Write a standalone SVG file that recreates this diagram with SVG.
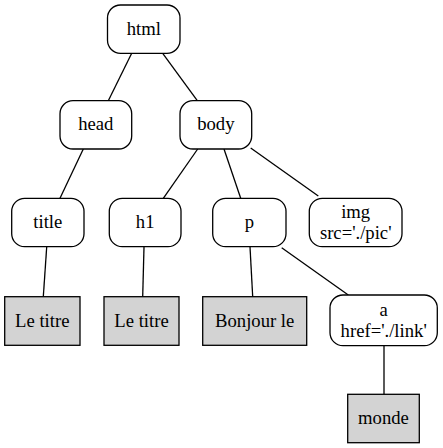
<svg xmlns="http://www.w3.org/2000/svg" width="443" height="448" viewBox="0 0 443 448">
<style>
.n{fill:#fff;stroke:#000;stroke-width:1.3}
.t{fill:#d3d3d3;stroke:#000;stroke-width:1.3}
text{font-family:'Liberation Serif',Tinos,'Times New Roman',Times,'DejaVu Serif','Noto Serif',serif;font-size:18.67px;text-anchor:middle;fill:#000}
.e{stroke:#000;stroke-width:1.3;fill:none}
</style>
<rect width="443" height="448" fill="#fff"/>
<g id="edges">
<line class="e" x1="131.7" y1="53.3" x2="108.3" y2="100.7"/>
<line class="e" x1="162.7" y1="53.3" x2="197.3" y2="100.7"/>
<line class="e" x1="83.3" y1="149" x2="60" y2="198.3"/>
<line class="e" x1="197.7" y1="149" x2="163.3" y2="198.3"/>
<line class="e" x1="224" y1="149" x2="240.7" y2="198.3"/>
<line class="e" x1="250.7" y1="148" x2="318.3" y2="196"/>
<line class="e" x1="46.7" y1="247" x2="43.3" y2="296.7"/>
<line class="e" x1="144" y1="247" x2="142.7" y2="296.7"/>
<line class="e" x1="250" y1="246.7" x2="252.7" y2="296.7"/>
<line class="e" x1="281.7" y1="247.7" x2="348.3" y2="295"/>
<line class="e" x1="384" y1="345.7" x2="384" y2="394.3"/>
</g>
<g id="html"><rect class="n" x="107.5" y="5" width="72.5" height="48.3" rx="13"/><text x="143.75" y="34.6">html</text></g>
<g id="head"><rect class="n" x="60" y="100.7" width="71.7" height="48.3" rx="13"/><text x="95.8" y="130.4">head</text></g>
<g id="body"><rect class="n" x="180" y="100.7" width="71.7" height="48.3" rx="13"/><text x="215.8" y="130.4">body</text></g>
<g id="title"><rect class="n" x="11.7" y="198.3" width="72.3" height="48.4" rx="13"/><text x="47.8" y="228.1">title</text></g>
<g id="h1"><rect class="n" x="109.3" y="198.3" width="71.7" height="48.4" rx="13"/><text x="145.2" y="228.1">h1</text></g>
<g id="p"><rect class="n" x="212.7" y="198.3" width="73.3" height="48.4" rx="13"/><text x="249.3" y="228.1">p</text></g>
<g id="img"><rect class="n" x="309.3" y="198.3" width="92.7" height="48.4" rx="13"/><text x="355.7" y="217.8">img</text><text x="355.7" y="239">src='./pic'</text></g>
<g id="letitre1"><rect class="t" x="4.7" y="296.7" width="75.3" height="48.6"/><text x="42.3" y="326.6">Le titre</text></g>
<g id="letitre2"><rect class="t" x="104" y="296.7" width="75" height="48.6"/><text x="141.5" y="326.6">Le titre</text></g>
<g id="bonjour"><rect class="t" x="202.7" y="296.7" width="104" height="48.6"/><text x="254.7" y="326.6">Bonjour le</text></g>
<g id="a"><rect class="n" x="330" y="295" width="107.3" height="50.7" rx="13"/><text x="383.7" y="315.7">a</text><text x="383.7" y="336.9">href='./link'</text></g>
<g id="monde"><rect class="t" x="347.7" y="394.3" width="71.6" height="48.4"/><text x="383.5" y="424.1">monde</text></g>
</svg>
